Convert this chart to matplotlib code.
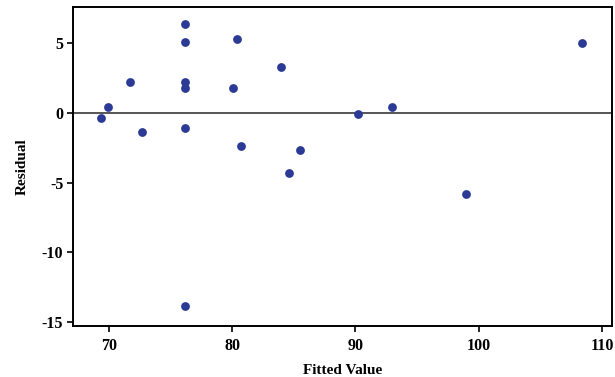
import numpy as np
import matplotlib
matplotlib.use("Agg")
from matplotlib import pyplot as plt

fitted = [69.4, 69.9, 71.7, 72.7, 76.2, 76.2, 76.2, 76.2, 76.2, 76.2,
          80.4, 80.1, 80.7, 84.0, 85.5, 84.6, 90.2, 93.0, 99.0, 108.4]
residual = [-0.4, 0.4, 2.2, -1.4, 6.4, 5.1, 2.2, 1.8, -1.1, -13.9,
            5.3, 1.8, -2.4, 3.3, -2.7, -4.3, -0.1, 0.4, -5.8, 5.0]
xticks = [70, 80, 90, 100, 110]
yticks = [-15, -10, -5, 0, 5]

plt.rcParams["font.family"] = ["Liberation Serif", "DejaVu Serif"]
plt.rcParams["font.weight"] = "bold"
plt.rcParams["axes.unicode_minus"] = False

fig = plt.figure(figsize=(6.15, 3.77), dpi=100)
ax = fig.add_axes([73/615, 1-326/377, (612-73)/615, (326-7)/377])

ax.axhline(0, color="#555555", linewidth=1.4, zorder=1)
ax.scatter(fitted, residual, s=40, color="#2B3A95", zorder=3, linewidths=0)

ax.set_xlim(67.1, 110.8)
ax.set_ylim(-15.3, 7.6)
ax.set_xticks(xticks)
ax.set_yticks(yticks)
ax.tick_params(direction="out", length=4, width=1.2, labelsize=11.5)
ax.tick_params(axis="x", pad=5)
ax.tick_params(axis="y", pad=3)
for s in ax.spines.values():
    s.set_linewidth(1.4)

ax.set_xlabel("Fitted Value", fontsize=11, fontweight="bold", labelpad=7)
ax.set_ylabel("Residual", fontsize=11, fontweight="bold", labelpad=9)

fig.savefig("out.png", dpi=100)
